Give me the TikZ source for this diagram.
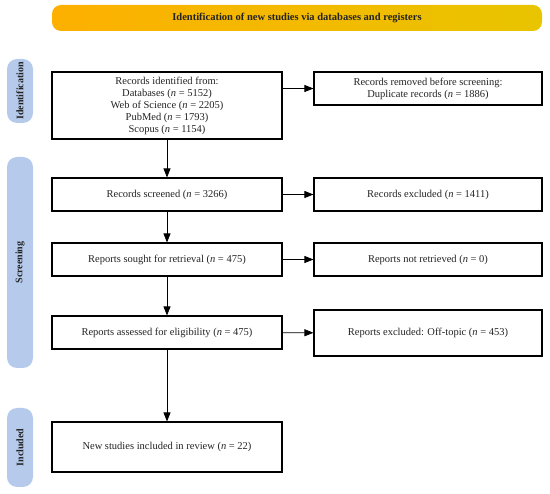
\documentclass[tikz,border=0pt]{standalone}
\usepackage{fontspec}
\setmainfont{Liberation Serif}
\usepackage{xcolor}
\usepackage{tikz}
\usetikzlibrary{arrows.meta}

\definecolor{phaseblue}{RGB}{182,203,236}
\definecolor{bannerleft}{RGB}{253,176,0}
\definecolor{bannerright}{RGB}{233,196,0}
\definecolor{inktext}{RGB}{35,35,35}

\begin{document}
\begin{tikzpicture}[
    x=1pt, y=-1pt,
    every node/.style={font=\fontsize{10.5}{12}\selectfont, text=inktext},
    banner/.style={left color=bannerleft, right color=bannerright, rounded corners=9pt,
        minimum width=490pt, minimum height=26pt, inner sep=0pt,
        font=\fontsize{10.5}{12}\selectfont\bfseries},
    phase/.style={fill=phaseblue, rounded corners=10pt, rotate=90, minimum height=26pt,
        inner sep=0pt, font=\fontsize{10}{12}\selectfont\bfseries},
    record/.style={draw=black, line width=1.1pt, align=center, inner sep=2pt},
    leftrec/.style={record, minimum width=230pt, minimum height=33pt},
    rightrec/.style={record, minimum width=228pt, minimum height=33pt},
    flow/.style={black, line width=0.7pt, -{Triangle[length=9pt,width=7pt]}},
]
\useasboundingbox (0,0) rectangle (550,494);

% =====================================================================
% Banner and phase labels on the left
% =====================================================================
\node[banner] (head) at (297,18) {Identification of new studies via databases and registers};

\node[phase, minimum width=64pt] (identification) at (20,91) {Identification};
\node[phase, minimum width=211pt] (screening) at (20,262.5) {Screening};
\node[phase, minimum width=79pt] (included) at (20,447.5) {Included};

% =====================================================================
% Main column
% =====================================================================
\node[leftrec, line width=2pt, minimum height=67pt] (identified) at (167,105.5)
    {Records identified from:\\
     Databases (\textit{n} = 5152)\\
     Web of Science (\textit{n} = 2205)\\
     PubMed (\textit{n} = 1793)\\
     Scopus (\textit{n} = 1154)};
\node[leftrec] (screened) at (167,194.5) {Records screened (\textit{n} = 3266)};
\node[leftrec] (sought) at (167,259.5) {Reports sought for retrieval (\textit{n} = 475)};
\node[leftrec] (assessed) at (167,332.5) {Reports assessed for eligibility (\textit{n} = 475)};
\node[leftrec, minimum height=50pt] (studies) at (167,447) {New studies included in review (\textit{n} = 22)};

% =====================================================================
% Side column (removed / excluded records)
% =====================================================================
\node[rightrec] (removed) at (428,88.5)
    {Records removed before screening:\\ Duplicate records (\textit{n} = 1886)};
\node[rightrec] (excluded) at (428,194.5) {Records excluded (\textit{n} = 1411)};
\node[rightrec] (notretrieved) at (428,259.5) {Reports not retrieved (\textit{n} = 0)};
\node[rightrec, minimum height=46pt] (offtopic) at (428,333)
    {Reports excluded: Off-topic (\textit{n} = 453)};

% Arrows
\draw[flow] (identified) -- (screened);
\draw[flow] (screened) -- (sought);
\draw[flow] (sought) -- (assessed);
\draw[flow] (assessed) -- (studies);

\draw[flow] (identified.east |- removed.west) -- (removed.west);
\draw[flow] (screened) -- (excluded);
\draw[flow] (sought) -- (notretrieved);
\draw[flow] (assessed) -- (offtopic);

\end{tikzpicture}
\end{document}
